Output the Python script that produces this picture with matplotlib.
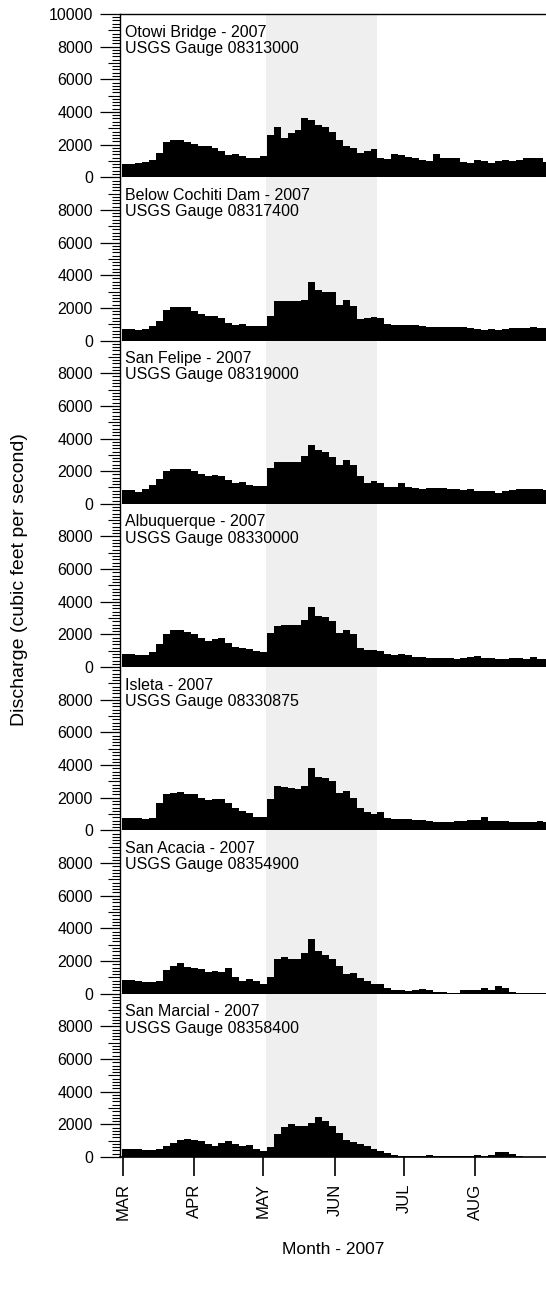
import matplotlib
matplotlib.use("Agg")
import matplotlib.pyplot as plt
import matplotlib.dates as mdates
import numpy as np
import pandas as pd

plt.rcParams['font.family'] = ['Liberation Sans', 'DejaVu Sans']

# sample dates, one value every 3 days (Mar 1 - Aug 31, 2007)
dates = pd.date_range('2007-03-01', periods=62, freq='3D')

stations = ['Otowi Bridge', 'Below Cochiti Dam', 'San Felipe', 'Albuquerque',
            'Isleta', 'San Acacia', 'San Marcial']
gauges = ['08313000', '08317400', '08319000', '08330000',
          '08330875', '08354900', '08358400']

# discharge, cubic feet per second
otowi = [820, 820, 860, 950, 1080, 1500, 2150, 2300, 2300, 2150, 2050, 1900, 1900,
         1800, 1600, 1350, 1450, 1300, 1200, 1200, 1300, 2600, 3050, 2400, 2700, 2900,
         3650, 3500, 3200, 3100, 2800, 2300, 1900, 1800, 1500, 1620, 1700, 1150, 1100,
         1400, 1350, 1250, 1200, 1050, 1000, 1450, 1150, 1150, 1150, 950, 900, 1050,
         1000, 900, 1000, 1050, 1000, 1050, 1150, 1200, 1150, 950]
cochiti = [700, 700, 620, 720, 900, 1200, 1900, 2050, 2050, 2050, 1800, 1600, 1480,
           1530, 1350, 1100, 980, 1000, 900, 870, 870, 1500, 2450, 2450, 2450, 2450,
           2500, 3600, 3100, 2970, 2970, 2200, 2500, 2100, 1300, 1350, 1420, 1400, 1000,
           970, 980, 970, 930, 870, 800, 820, 800, 800, 800, 800, 780, 700, 660, 680,
           660, 700, 760, 780, 790, 800, 780, 760]
san_felipe = [840, 820, 730, 880, 1150, 1550, 2000, 2150, 2150, 2150, 2000, 1820, 1700,
              1780, 1700, 1450, 1280, 1320, 1150, 1100, 1100, 2200, 2580, 2580, 2580,
              2580, 2900, 3600, 3300, 3150, 2850, 2350, 2700, 2400, 1700, 1250, 1420,
              1300, 1060, 1040, 1250, 1000, 970, 900, 950, 980, 940, 920, 890, 840, 900,
              760, 760, 780, 670, 760, 860, 900, 900, 930, 880, 850]
albuquerque = [800, 790, 770, 760, 950, 1420, 2050, 2250, 2300, 2180, 2000, 1800, 1600,
               1700, 1800, 1480, 1250, 1150, 1100, 960, 950, 2100, 2500, 2550, 2560,
               2600, 2900, 3660, 3100, 3050, 2800, 2100, 2300, 2000, 1200, 1060, 1060,
               1000, 800, 760, 790, 750, 650, 620, 580, 560, 550, 540, 520, 550, 600,
               700, 560, 540, 520, 520, 550, 530, 510, 600, 500, 490]
isleta = [780, 780, 760, 690, 760, 1700, 2200, 2300, 2380, 2250, 2200, 1960, 1860, 1950,
          1950, 1650, 1350, 1200, 1080, 850, 820, 1900, 2700, 2650, 2600, 2550, 2700,
          3800, 3250, 3200, 3050, 2300, 2400, 2000, 1400, 1100, 1000, 1130, 780, 720,
          700, 680, 650, 620, 570, 520, 520, 520, 560, 580, 620, 650, 800, 580, 570, 560,
          530, 520, 520, 540, 560, 520]
san_acacia = [830, 860, 760, 690, 730, 800, 1450, 1720, 1880, 1650, 1570, 1500, 1300,
              1380, 1350, 1550, 1050, 780, 880, 750, 620, 1000, 2100, 2250, 2100, 2120,
              2500, 3350, 2600, 2400, 2150, 1700, 1200, 1250, 980, 800, 620, 620, 350,
              250, 220, 180, 200, 300, 200, 120, 80, 70, 70, 200, 250, 200, 350, 250, 450,
              330, 110, 60, 50, 50, 50, 50]
san_marcial = [520, 510, 470, 440, 420, 460, 700, 860, 1050, 1120, 1070, 990, 820, 680,
               830, 1000, 770, 670, 720, 500, 350, 600, 1400, 1850, 2050, 1900, 1900,
               2100, 2420, 2200, 1900, 1500, 1050, 940, 800, 650, 480, 380, 220, 100, 60,
               60, 60, 70, 100, 50, 40, 40, 40, 40, 80, 120, 50, 110, 300, 280, 200, 50,
               20, 20, 20, 20]
series = [otowi, cochiti, san_felipe, albuquerque, isleta, san_acacia, san_marcial]

# highlighted runoff period
shade_start = pd.Timestamp('2007-05-02 07:00')
shade_end = pd.Timestamp('2007-06-19 12:00')

fig = plt.figure(figsize=(5.46, 12.91), dpi=100)
left, right = 0.2198, 1.0
top, bottom = 0.9892, 0.1038
h = (top - bottom) / len(series)

x = mdates.date2num(dates) - 0.5
xmin = mdates.date2num(pd.Timestamp('2007-03-01')) - 1.2
xmax = mdates.date2num(pd.Timestamp('2007-08-31')) + 0.6

for k, (name, gauge, vals) in enumerate(zip(stations, gauges, series)):
    ax = fig.add_axes([left, top - (k + 1) * h, right - left, h])
    ax.axvspan(shade_start, shade_end, color='#efefef', lw=0, zorder=0)
    ax.bar(x, vals, width=3, align='edge', color='black', lw=0, zorder=2)
    ax.set_xlim(xmin, xmax)
    ax.set_ylim(0, 10000)

    ax.spines['right'].set_visible(False)
    ax.spines['top'].set_visible(k == 0)
    ax.spines['bottom'].set_visible(k == len(series) - 1)
    ax.spines['left'].set_linewidth(1.0)
    ax.spines['top'].set_linewidth(1.0)

    yt = [0, 2000, 4000, 6000, 8000] + ([10000] if k == 0 else [])
    ax.set_yticks(yt)
    ax.set_yticklabels([str(v) for v in yt])
    ax.set_yticks([v for v in range(0, 10001, 200) if v % 1000], minor=True)
    ax.tick_params(axis='y', which='major', direction='out', length=14.4, width=0.9,
                   labelsize=11.5, pad=5)
    ax.tick_params(axis='y', which='minor', direction='out', length=5.8, width=0.8)
    # medium ticks at odd thousands
    sec = ax.secondary_yaxis('left')
    sec.set_yticks([1000, 3000, 5000, 7000, 9000])
    sec.set_yticklabels([])
    sec.tick_params(axis='y', direction='out', length=8.6, width=0.8)
    sec.spines['left'].set_visible(False)

    ax.text(0.012, 0.935, f'{name} - 2007\nUSGS Gauge {gauge}', transform=ax.transAxes,
            ha='left', va='top', fontsize=11.5, linespacing=1.1, zorder=3)

    ax.xaxis.set_major_locator(mdates.MonthLocator())
    if k == len(series) - 1:
        ax.xaxis.set_major_formatter(
            plt.FuncFormatter(lambda v, p: mdates.num2date(v).strftime('%b').upper()))
        ax.tick_params(axis='x', direction='out', length=14, width=1.2, labelsize=12,
                       pad=5, labelrotation=90)
        ax.spines['bottom'].set_linewidth(1.2)
    else:
        ax.tick_params(axis='x', length=0, labelbottom=False)

fig.text(0.0366, 0.5507, 'Discharge (cubic feet per second)', rotation=90,
         ha='center', va='center', fontsize=14)
fig.text((left + right) / 2, 0.032, 'Month - 2007', ha='center', va='center',
         fontsize=12.5)

fig.savefig('out.png', dpi=100)
